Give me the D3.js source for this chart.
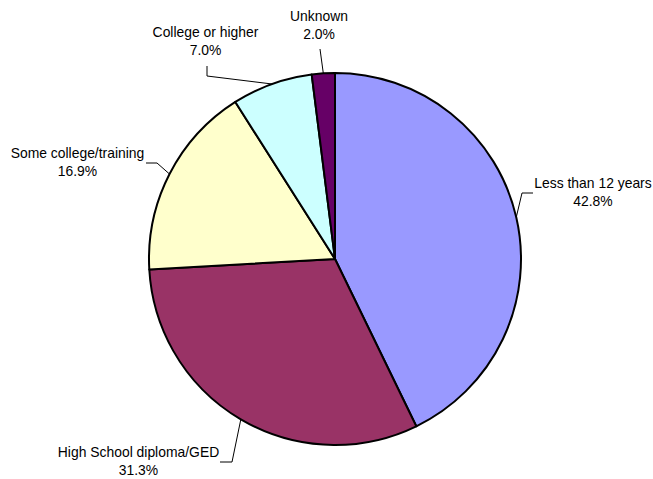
<!DOCTYPE html>
<html>
<head>
<meta charset="utf-8">
<script src="https://cdn.jsdelivr.net/npm/d3@7"></script>
<style>
  html, body { margin: 0; padding: 0; background: #fff; }
  svg { display: block; }
  text { font-family: Arial, "Liberation Sans", sans-serif; font-size: 13.9px; fill: #000; }
</style>
</head>
<body>
<svg id="chart" width="653" height="479"></svg>
<script>
// Education level breakdown (percent)
const categories = ["Less than 12 years", "High School diploma/GED", "Some college/training", "College or higher", "Unknown"];
const values = [42.8, 31.3, 16.9, 7.0, 2.0];
const colors = ["#9999FF", "#993366", "#FFFFCC", "#CCFFFF", "#660066"];

// Label placement: elbow of leader line, end of leader line, label centre and first baseline
const labelLayout = [
  { elbow: [522, 193], end: [533, 193], at: [593, 188] },
  { elbow: [232, 462], end: [220, 462], at: [138.5, 457] },
  { elbow: [157, 163], end: [146, 163], at: [77.5, 158] },
  { elbow: [207, 76],  end: [207, 66],  at: [205.5, 37] },
  { elbow: [320, 49],  end: [320, 49],  at: [319, 21] }
];

const cx = 335, cy = 259, radius = 186;
const svg = d3.select("#chart");
const g = svg.append("g").attr("transform", `translate(${cx},${cy})`);

const pie = d3.pie().sort(null).value(d => d.value);
const arcs = pie(categories.map((c, i) => ({ name: c, value: values[i] })));
const arc = d3.arc().innerRadius(0).outerRadius(radius);

g.selectAll("path.slice")
  .data(arcs)
  .join("path")
  .attr("class", "slice")
  .attr("d", arc)
  .attr("fill", (d, i) => colors[i])
  .attr("stroke", "#000")
  .attr("stroke-width", 2)
  .attr("stroke-linejoin", "round");

const fmt = d3.format(".1f");

arcs.forEach((d, i) => {
  const mid = (d.startAngle + d.endAngle) / 2;
  const p0 = [cx + radius * Math.sin(mid), cy - radius * Math.cos(mid)];
  const L = labelLayout[i];
  svg.append("polyline")
    .attr("points", [p0, L.elbow, L.end].map(p => p.join(",")).join(" "))
    .attr("fill", "none")
    .attr("stroke", "#000")
    .attr("stroke-width", 1);
  const t = svg.append("text").attr("text-anchor", "middle");
  t.append("tspan").attr("x", L.at[0]).attr("y", L.at[1]).text(d.data.name);
  t.append("tspan").attr("x", L.at[0]).attr("y", L.at[1] + 18).text(fmt(d.data.value) + "%");
});
</script>
</body>
</html>
